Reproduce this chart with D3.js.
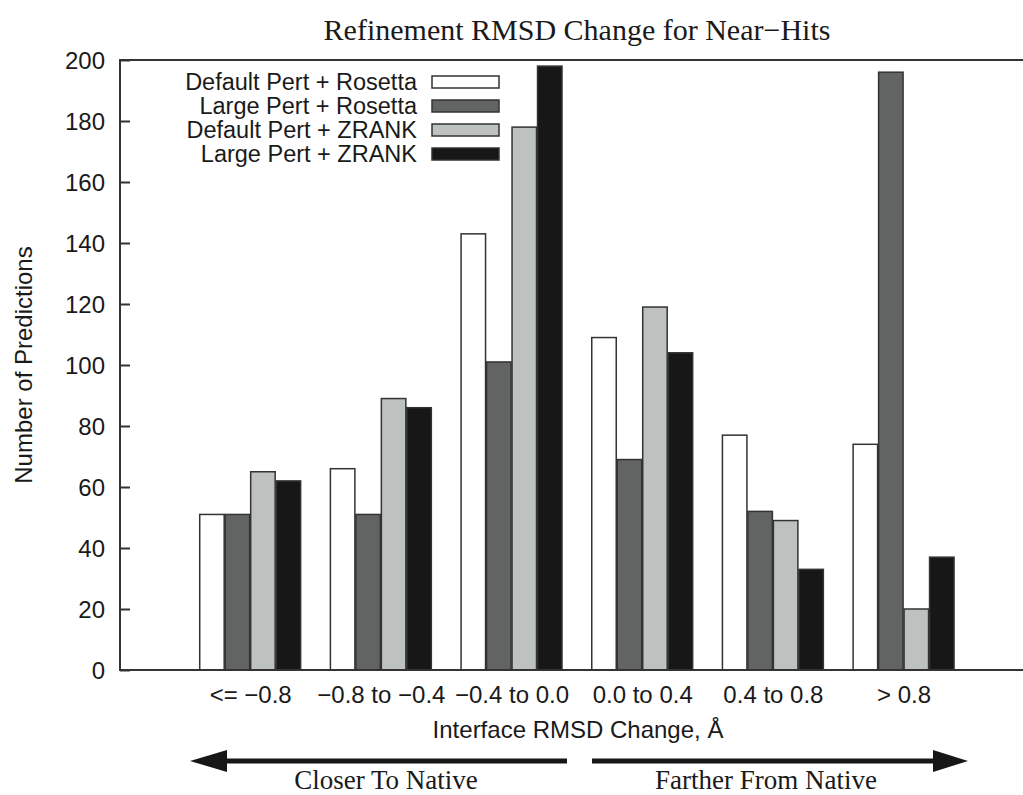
<!DOCTYPE html>
<html>
<head>
<meta charset="utf-8">
<script src="https://cdn.jsdelivr.net/npm/d3@7"></script>
<style>
  body { margin: 0; background: #fff; }
  .sans { font-family: "Liberation Sans", Arial, sans-serif; fill: #1a1a1a; }
  .serif { font-family: "Liberation Serif", "Times New Roman", serif; fill: #1a1a1a; }
</style>
</head>
<body>
<script>

// categories along the x axis
var categories = ["<= \u22120.8", "\u22120.8 to \u22120.4", "\u22120.4 to 0.0", "0.0 to 0.4", "0.4 to 0.8", "> 0.8"];

// one array per series, in category order
var series = ["Default Pert + Rosetta", "Large Pert + Rosetta", "Default Pert + ZRANK", "Large Pert + ZRANK"];
var defaultRosetta = [51, 66, 143, 109, 77, 74];
var largeRosetta = [51, 51, 101, 69, 52, 196];
var defaultZrank = [65, 89, 178, 119, 49, 20];
var largeZrank = [62, 86, 198, 104, 33, 37];
var values = [defaultRosetta, largeRosetta, defaultZrank, largeZrank];

var yTicks = [0, 20, 40, 60, 80, 100, 120, 140, 160, 180, 200];
var colors = ["#ffffff", "#626463", "#bdc1c0", "#171717"];

var w = 1023;
var h = 795;
var margin = {top: 60, right: 0, bottom: 125, left: 120};

var svg = d3.select("body")
            .append("svg")
            .attr("width", w)
            .attr("height", h);

// x: categories sit at 0..5, axis runs from -1
var xScale = d3.scaleLinear()
               .domain([-1, 5.91])
               .range([margin.left, w - margin.right]);

var yScale = d3.scaleLinear()
               .domain([0, 200])
               .range([h - margin.bottom, margin.top]);

var groupWidth = 0.78;
var barWidth = groupWidth / series.length;

// bars
values.forEach(function(vals, s) {
  svg.selectAll(".bar" + s)
     .data(vals)
     .enter().append("rect")
     .attr("x", function(d, i) {
       return xScale(i - groupWidth / 2 + s * barWidth);
     })
     .attr("y", function(d) { return yScale(d); })
     .attr("width", xScale(barWidth) - xScale(0) - 1)
     .attr("height", function(d) { return yScale(0) - yScale(d); })
     .style("fill", colors[s])
     .style("stroke", "#333")
     .style("stroke-width", 1.5);
});

// y axis with inward ticks
var yAxis = svg.append("g")
   .attr("transform", "translate(" + margin.left + ",0)")
   .call(d3.axisRight(yScale).tickValues(yTicks).tickSize(10).tickFormat(d3.format("d")));
yAxis.select(".domain").remove();
yAxis.selectAll("line").style("stroke", "#333").style("stroke-width", 2);
yAxis.selectAll("text")
     .attr("class", "sans")
     .attr("x", -15)
     .attr("dy", "0.35em")
     .style("text-anchor", "end")
     .style("font-size", "24px");

// frame: left, bottom, top
svg.append("path")
   .attr("d", "M" + (w - margin.right) + "," + margin.top + "H" + margin.left +
              "V" + (h - margin.bottom) + "H" + (w - margin.right))
   .style("fill", "none")
   .style("stroke", "#333")
   .style("stroke-width", 2);

// x category labels
svg.selectAll(".xlab")
   .data(categories)
   .enter().append("text")
   .attr("class", "sans")
   .attr("x", function(d, i) { return xScale(i); })
   .attr("y", 703)
   .style("text-anchor", "middle")
   .style("font-size", "24px")
   .text(function(d) { return d; });

// axis titles
svg.append("text")
   .attr("class", "sans")
   .attr("x", 578)
   .attr("y", 738)
   .style("text-anchor", "middle")
   .style("font-size", "24px")
   .text("Interface RMSD Change, \u00c5");

svg.append("text")
   .attr("class", "sans")
   .attr("transform", "translate(32, 365) rotate(-90)")
   .style("text-anchor", "middle")
   .style("font-size", "24px")
   .text("Number of Predictions");

// title
svg.append("text")
   .attr("class", "serif")
   .attr("x", 577)
   .attr("y", 40)
   .style("text-anchor", "middle")
   .style("font-size", "30px")
   .text("Refinement RMSD Change for Near\u2212Hits");

// legend
var legend = svg.selectAll(".leg")
   .data(series)
   .enter().append("g")
   .attr("transform", function(d, i) { return "translate(0," + (82 + i * 24) + ")"; });

legend.append("text")
      .attr("class", "sans")
      .attr("x", 417)
      .attr("dy", "0.36em")
      .style("text-anchor", "end")
      .style("font-size", "23.5px")
      .text(function(d) { return d; });

legend.append("rect")
      .attr("x", 432)
      .attr("y", -6)
      .attr("width", 67)
      .attr("height", 12)
      .style("fill", function(d, i) { return colors[i]; })
      .style("stroke", "#333")
      .style("stroke-width", 1.5);

// direction arrows
var arrowY = 761;
svg.append("line")
   .attr("x1", 222).attr("x2", 567)
   .attr("y1", arrowY).attr("y2", arrowY)
   .style("stroke", "#171717").style("stroke-width", 5);
svg.append("path")
   .attr("d", "M190," + arrowY + "L227," + (arrowY - 11) + "L227," + (arrowY + 11) + "Z")
   .style("fill", "#171717");

svg.append("line")
   .attr("x1", 592).attr("x2", 938)
   .attr("y1", arrowY).attr("y2", arrowY)
   .style("stroke", "#171717").style("stroke-width", 5);
svg.append("path")
   .attr("d", "M968," + arrowY + "L933," + (arrowY - 11) + "L933," + (arrowY + 11) + "Z")
   .style("fill", "#171717");

svg.append("text")
   .attr("class", "serif")
   .attr("x", 386)
   .attr("y", 789)
   .style("text-anchor", "middle")
   .style("font-size", "27px")
   .text("Closer To Native");

svg.append("text")
   .attr("class", "serif")
   .attr("x", 766)
   .attr("y", 789)
   .style("text-anchor", "middle")
   .style("font-size", "27px")
   .text("Farther From Native");

</script>
</body>
</html>
